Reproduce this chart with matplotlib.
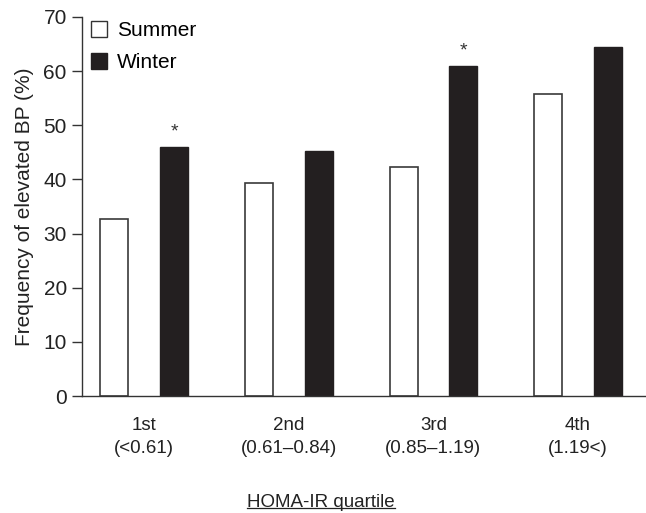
import numpy as np
import matplotlib
matplotlib.use('Agg')
import matplotlib.pyplot as plt
from matplotlib.patches import Patch
from matplotlib.lines import Line2D

plt.rcParams['font.family'] = ['Liberation Sans', 'DejaVu Sans']

## data -----
quartiles = ['1st\n(<0.61)', '2nd\n(0.61\u20130.84)', '3rd\n(0.85\u20131.19)', '4th\n(1.19<)']
summer = [32.7, 39.4, 42.2, 55.7]
winter = [45.9, 45.3, 61.0, 64.5]
signif = [True, False, True, False]

dark = '#231f20'
fs = 15

fig = plt.figure(figsize=(6.46, 5.13), dpi=100)
ax = fig.add_axes([0.127, 0.228, 0.873, 0.739])

x = np.arange(len(quartiles))
w = 0.194
off = 0.206
ax.bar(x - off, summer, w, color='white', edgecolor='#3a3a3a', linewidth=1.2)
ax.bar(x + off, winter, w, color=dark, edgecolor=dark, linewidth=1.0)

for i in range(len(x)):
    if signif[i]:
        ax.text(x[i] + off, winter[i] + 1.2, '*', ha='center', va='bottom',
                fontsize=14, color='#333333')

ax.set_xlim(-0.43, 3.47)
ax.set_ylim(0, 70)
ax.set_yticks(range(0, 71, 10))
ax.set_xticks(x)
ax.set_xticklabels(quartiles, fontsize=13.5, color='#222222', linespacing=1.45)
ax.tick_params(axis='x', length=0, pad=15)
ax.tick_params(axis='y', length=7, width=1, labelsize=fs, labelcolor='#222222', color='#333333', pad=4)
for s in ['top', 'right']:
    ax.spines[s].set_visible(False)
for s in ['left', 'bottom']:
    ax.spines[s].set_color('#333333')
    ax.spines[s].set_linewidth(1.0)

ax.set_ylabel('Frequency of elevated BP (%)', fontsize=fs, color='#222222', labelpad=7)

handles = [Patch(facecolor='white', edgecolor='#333333', linewidth=1.0, label='Summer'),
           Patch(facecolor=dark, edgecolor=dark, label='Winter')]
ax.legend(handles=handles, loc='upper left', bbox_to_anchor=(-0.01, 1.028), frameon=False,
          fontsize=fs, handlelength=0.75, handleheight=0.8, handletextpad=0.5,
          labelspacing=0.6, borderaxespad=0.3)

# underlined x axis title
t = fig.text(0.497, 0.004, 'HOMA-IR quartile', ha='center', va='bottom', fontsize=13.5, color='#222222')
fig.canvas.draw()
bb = t.get_window_extent().transformed(fig.transFigure.inverted())
fig.add_artist(Line2D([bb.x0, bb.x1], [bb.y0 + 0.006, bb.y0 + 0.006],
                      transform=fig.transFigure, color='#222222', linewidth=0.9))

fig.savefig('out.png', dpi=100)
